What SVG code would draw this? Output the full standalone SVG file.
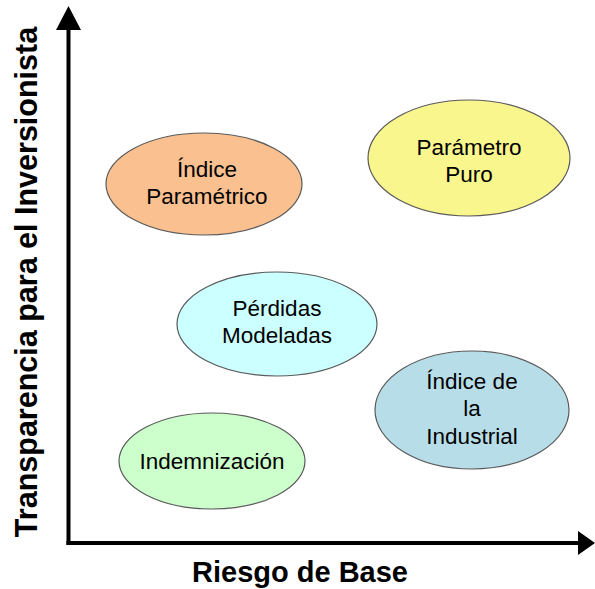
<svg xmlns="http://www.w3.org/2000/svg" width="595" height="589" viewBox="0 0 595 589">
<style>
.n ellipse{stroke:#5a5a5a;stroke-width:1.2}
.t{font-family:"Liberation Sans",Arial,sans-serif;font-size:22.5px;fill:#000;text-anchor:middle}
.ax{font-family:"Liberation Sans",Arial,sans-serif;font-weight:bold;fill:#000;text-anchor:middle}
</style>
<rect width="595" height="589" fill="#fff"/>
<g id="axes">
<line x1="68.5" y1="28" x2="68.5" y2="545" stroke="#000" stroke-width="4"/>
<polygon points="68.5,6 56,30 81,30" fill="#000"/>
<line x1="66.5" y1="543" x2="580" y2="543" stroke="#000" stroke-width="4"/>
<polygon points="595,543 578,531 578,555" fill="#000"/>
<text class="ax" x="300" y="582" style="font-size:29px">Riesgo de Base</text>
<text class="ax" transform="translate(36.5,282) rotate(-90)" x="0" y="0" style="font-size:30.5px">Transparencia para el Inversionista</text>
</g>
<g id="n-indice-parametrico" class="n">
<ellipse cx="204" cy="184" rx="98" ry="51" fill="#FAC090"/>
<text class="t" x="207" y="177">Índice</text>
<text class="t" x="207" y="204">Paramétrico</text>
</g>
<g id="n-parametro-puro" class="n">
<ellipse cx="469" cy="158" rx="101" ry="58" fill="#FAF68E"/>
<text class="t" x="469" y="155">Parámetro</text>
<text class="t" x="469" y="182">Puro</text>
</g>
<g id="n-perdidas-modeladas" class="n">
<ellipse cx="277" cy="324" rx="100" ry="52" fill="#CCFFFF"/>
<text class="t" x="277" y="316">Pérdidas</text>
<text class="t" x="277" y="343">Modeladas</text>
</g>
<g id="n-indice-industrial" class="n">
<ellipse cx="472" cy="410" rx="97" ry="59" fill="#B7DEE8"/>
<text class="t" x="472" y="389">Índice de</text>
<text class="t" x="472" y="416">la</text>
<text class="t" x="472" y="444">Industrial</text>
</g>
<g id="n-indemnizacion" class="n">
<ellipse cx="212" cy="461" rx="93" ry="48" fill="#CCFFCC"/>
<text class="t" x="212" y="469">Indemnización</text>
</g>
<g id="connectors"/>
</svg>
